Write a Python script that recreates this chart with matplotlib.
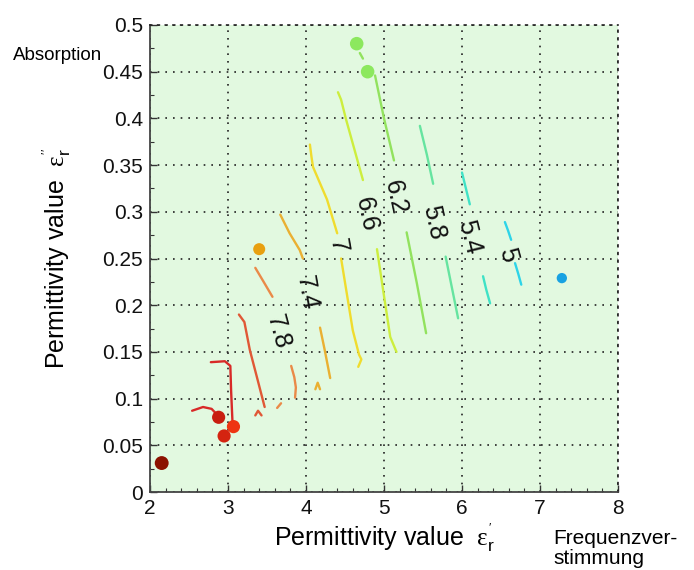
import matplotlib
matplotlib.use('Agg')
import matplotlib.pyplot as plt
from matplotlib.ticker import FixedLocator, MultipleLocator

# ---------------- data ----------------
x_ticks = [2, 3, 4, 5, 6, 7, 8]
y_ticks = [0, 0.05, 0.1, 0.15, 0.2, 0.25, 0.3, 0.35, 0.4, 0.45, 0.5]
y_tick_labels = ['0', '0.05', '0.1', '0.15', '0.2', '0.25', '0.3', '0.35', '0.4', '0.45', '0.5']

# contour level 5
c50a_x = [6.55, 6.59, 6.63]; c50a_y = [0.289, 0.280, 0.270]
c50b_x = [6.68, 6.72, 6.76]; c50b_y = [0.245, 0.234, 0.222]
# contour level 5.4
c54a_x = [6.00, 6.05, 6.10]; c54a_y = [0.342, 0.325, 0.308]
c54b_x = [6.27, 6.31, 6.36]; c54b_y = [0.231, 0.217, 0.202]
# contour level 5.8
c58a_x = [5.46, 5.55, 5.63]; c58a_y = [0.392, 0.361, 0.330]
c58b_x = [5.79, 5.87, 5.95]; c58b_y = [0.252, 0.219, 0.186]
# contour level 6.2
c62a_x = [4.69, 4.73]; c62a_y = [0.470, 0.464]
c62b_x = [4.885, 5.00, 5.128]; c62b_y = [0.446, 0.400, 0.355]
c62c_x = [5.29, 5.42, 5.54]; c62c_y = [0.278, 0.224, 0.170]
# contour level 6.6
c66a_x = [4.41, 4.45, 4.51, 4.62, 4.73]; c66a_y = [0.428, 0.420, 0.400, 0.367, 0.334]
c66b_x = [4.91, 5.00, 5.08, 5.16]; c66b_y = [0.260, 0.210, 0.166, 0.150]
# contour level 7
c70a_x = [4.05, 4.07, 4.09, 4.27, 4.40]; c70a_y = [0.372, 0.359, 0.348, 0.313, 0.277]
c70b_x = [4.45, 4.60, 4.68, 4.71, 4.67]; c70b_y = [0.250, 0.173, 0.147, 0.142, 0.134]
# contour level 7.4
c74a_x = [3.67, 3.79, 3.92, 3.96]; c74a_y = [0.297, 0.277, 0.259, 0.250]
c74b_x = [4.18, 4.24, 4.31]; c74b_y = [0.176, 0.152, 0.122]
c74c_x = [4.12, 4.15, 4.18]; c74c_y = [0.110, 0.117, 0.110]
# contour level 7.8
c78a_x = [3.35, 3.45, 3.57]; c78a_y = [0.240, 0.226, 0.209]
c78b_x = [3.81, 3.85, 3.87, 3.86]; c78b_y = [0.135, 0.123, 0.112, 0.101]
c78c_x = [3.63, 3.68]; c78c_y = [0.090, 0.095]
# contour level 8.2
c82a_x = [3.14, 3.21, 3.28, 3.38, 3.47]; c82a_y = [0.190, 0.182, 0.152, 0.120, 0.091]
c82b_x = [3.35, 3.385, 3.43]; c82b_y = [0.082, 0.087, 0.082]
# contour level 8.6
c86a_x = [2.78, 2.96, 3.03, 3.04, 3.06]; c86a_y = [0.139, 0.140, 0.135, 0.108, 0.070]
c86b_x = [2.54, 2.68, 2.79, 2.88]; c86b_y = [0.087, 0.091, 0.089, 0.081]

# contour labels
label_text = ['5', '5.4', '5.8', '6.2', '6.6', '7', '7.4', '7.8']
label_x = [6.59, 6.09, 5.63, 5.14, 4.77, 4.41, 4.01, 3.64]
label_y = [0.254, 0.273, 0.289, 0.315, 0.297, 0.264, 0.213, 0.171]

# measured points
point_x = [4.65, 4.79, 3.40, 2.88, 2.95, 3.07, 2.15, 7.28]
point_y = [0.480, 0.450, 0.260, 0.080, 0.060, 0.070, 0.031, 0.229]

# ---------------- styles ----------------
level_colors = {
    5.0: '#2ed4e8', 5.4: '#3fe2c6', 5.8: '#66e4a0', 6.2: '#92e25e',
    6.6: '#cdee3e', 7.0: '#f0dc2e', 7.4: '#eab032', 7.8: '#ea8a48',
    8.2: '#e05836', 8.6: '#d82a28',
}
point_colors = ['#8ce85e', '#8ce85e', '#e8a010', '#c81e10', '#d42410',
                '#ee3412', '#8c1200', '#18a2e2']
point_sizes = [95, 95, 75, 90, 90, 90, 100, 55]
label_rot = [-75, -76, -78, -78, -78, -80, -80, -75]

segments = [
    (c50a_x, c50a_y, 5.0), (c50b_x, c50b_y, 5.0),
    (c54a_x, c54a_y, 5.4), (c54b_x, c54b_y, 5.4),
    (c58a_x, c58a_y, 5.8), (c58b_x, c58b_y, 5.8),
    (c62a_x, c62a_y, 6.2), (c62b_x, c62b_y, 6.2), (c62c_x, c62c_y, 6.2),
    (c66a_x, c66a_y, 6.6), (c66b_x, c66b_y, 6.6),
    (c70a_x, c70a_y, 7.0), (c70b_x, c70b_y, 7.0),
    (c74a_x, c74a_y, 7.4), (c74b_x, c74b_y, 7.4), (c74c_x, c74c_y, 7.4),
    (c78a_x, c78a_y, 7.8), (c78b_x, c78b_y, 7.8), (c78c_x, c78c_y, 7.8),
    (c82a_x, c82a_y, 8.2), (c82b_x, c82b_y, 8.2),
    (c86a_x, c86a_y, 8.6), (c86b_x, c86b_y, 8.6),
]

plt.rcParams['font.family'] = ['Liberation Sans', 'DejaVu Sans']
plt.rcParams['mathtext.fontset'] = 'custom'
plt.rcParams['mathtext.rm'] = 'Liberation Serif'
plt.rcParams['mathtext.it'] = 'Liberation Serif'
plt.rcParams['mathtext.sf'] = 'Liberation Sans'

fig = plt.figure(figsize=(6.94, 5.70), dpi=100)
ax = fig.add_axes([150 / 694, 78 / 570, 468 / 694, 467 / 570])
ax.set_facecolor('#e2f9e0')

dot = (0, (1, 3.6))
for x, y, lvl in segments:
    ax.plot(x, y, color=level_colors[lvl], lw=1.7, solid_capstyle='round', zorder=3)

for t, x, y, r in zip(label_text, label_x, label_y, label_rot):
    ax.text(x, y, t, rotation=r, rotation_mode='anchor', ha='center', va='center',
            fontsize=18, color='#111111', zorder=4)

ax.scatter(point_x, point_y, s=point_sizes, c=point_colors, zorder=5, linewidths=0)

ax.set_xlim(2, 8)
ax.set_ylim(0, 0.5)
ax.xaxis.set_major_locator(FixedLocator(x_ticks))
ax.yaxis.set_major_locator(FixedLocator(y_ticks))
ax.set_yticklabels(y_tick_labels)
ax.xaxis.set_minor_locator(MultipleLocator(0.2))
ax.yaxis.set_minor_locator(MultipleLocator(0.025))

ax.grid(True, which='major', color='#222222', linestyle=dot, linewidth=1.2, zorder=1)
ax.set_axisbelow(True)

ax.tick_params(axis='both', which='major', direction='in', length=5, width=1,
               labelsize=15, colors='#333333', labelcolor='#111111', pad=5,
               top=False, right=False)
ax.tick_params(axis='both', which='minor', direction='in', length=3, width=0.8,
               colors='#333333', top=False, right=False)

for side in ['left', 'bottom']:
    ax.spines[side].set_color('#444444')
    ax.spines[side].set_linewidth(1.3)
for side in ['top', 'right']:
    ax.spines[side].set_color('#222222')
    ax.spines[side].set_linewidth(1.2)
    ax.spines[side].set_linestyle(dot)

ax.set_xlabel(r"Permittivity value  $\varepsilon_{\mathsf{r}}^{'}$", fontsize=18)
ax.set_ylabel(r"Permittivity value  $\varepsilon_{\mathsf{r}}^{''}$", fontsize=18)
ax.xaxis.set_label_coords(0.5, -0.062)
ax.yaxis.set_label_coords(-0.165, 0.5)

fig.text(13 / 694, 1 - 55 / 570, 'Absorption', fontsize=13.5, va='center', ha='left')
fig.text(553 / 694, 1 - 538 / 570, 'Frequenzver-', fontsize=15, va='center', ha='left')
fig.text(553 / 694, 1 - 558 / 570, 'stimmung', fontsize=15, va='center', ha='left')

fig.savefig('out.png', dpi=100)
